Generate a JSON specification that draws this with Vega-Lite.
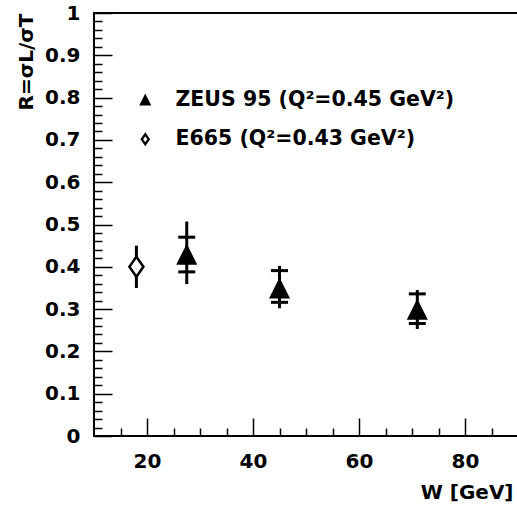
{
  "$schema": "https://vega.github.io/schema/vega-lite/v6.json",
  "width": 424,
  "height": 423,
  "autosize": {"type": "none"},
  "padding": {"left": 94, "top": 13, "right": 0, "bottom": 76},
  "background": "white",
  "data": {
    "values": [
      {"exp": "ZEUS 95 (Q²=0.45 GeV²)", "W": 27.5, "R": 0.428, "stat_lo": 0.388, "stat_hi": 0.470, "tot_lo": 0.359, "tot_hi": 0.507},
      {"exp": "ZEUS 95 (Q²=0.45 GeV²)", "W": 45, "R": 0.348, "stat_lo": 0.316, "stat_hi": 0.391, "tot_lo": 0.302, "tot_hi": 0.402},
      {"exp": "ZEUS 95 (Q²=0.45 GeV²)", "W": 71, "R": 0.298, "stat_lo": 0.266, "stat_hi": 0.336, "tot_lo": 0.253, "tot_hi": 0.345},
      {"exp": "E665 (Q²=0.43 GeV²)", "W": 18, "R": 0.40, "stat_lo": null, "stat_hi": null, "tot_lo": 0.35, "tot_hi": 0.45}
    ]
  },
  "resolve": {"axis": {"x": "independent", "y": "independent"}},
  "layer": [
    {
      "mark": {"type": "rule", "stroke": "black", "strokeWidth": 3},
      "encoding": {
        "x": {
          "field": "W",
          "type": "quantitative",
          "scale": {"domain": [10, 90], "nice": false, "zero": false},
          "axis": {
            "orient": "bottom",
            "offset": -18,
            "domain": false,
            "values": [20, 40, 60, 80],
            "tickCount": 200,
            "format": "~g",
            "tickSize": 18,
            "labelPadding": 15,
            "labelOverlap": false,
            "labelFlush": false,
            "title": "W [GeV]",
            "titleAnchor": "end",
            "titleX": 419,
            "titleY": 80,
            "titleAlign": "right",
            "titleBaseline": "alphabetic"
          }
        },
        "y": {
          "field": "tot_lo",
          "type": "quantitative",
          "scale": {"domain": [0, 1], "nice": false, "zero": false},
          "axis": {
            "orient": "left",
            "offset": -18,
            "domain": false,
            "values": [0, 0.1, 0.2, 0.3, 0.4, 0.5, 0.6, 0.7, 0.8, 0.9, 1],
            "tickCount": 200,
            "format": "~g",
            "tickSize": 18,
            "labelPadding": 14,
            "labelOverlap": false,
            "labelFlush": false,
            "title": "R=σL/σT",
            "titleAngle": -90,
            "titleX": -80,
            "titleY": 0,
            "titleAlign": "right",
            "titleBaseline": "alphabetic"
          }
        },
        "y2": {"field": "tot_hi"}
      }
    },
    {
      "mark": {"type": "tick", "orient": "horizontal", "color": "black", "size": 17, "thickness": 3, "opacity": 1},
      "encoding": {
        "x": {
          "field": "W",
          "type": "quantitative",
          "axis": {
            "orient": "bottom",
            "offset": -8,
            "values": [15, 25, 30, 35, 45, 50, 55, 65, 70, 75, 85],
            "tickCount": 200,
            "tickSize": 8,
            "labels": false,
            "domain": false,
            "title": null
          }
        },
        "y": {
          "field": "stat_lo",
          "type": "quantitative",
          "axis": {
            "orient": "left",
            "offset": -8,
            "values": [0.02, 0.04, 0.06, 0.08, 0.12, 0.14, 0.16, 0.18, 0.22, 0.24, 0.26, 0.28, 0.32, 0.34, 0.36, 0.38, 0.42, 0.44, 0.46, 0.48, 0.52, 0.54, 0.56, 0.58, 0.62, 0.64, 0.66, 0.68, 0.72, 0.74, 0.76, 0.78, 0.82, 0.84, 0.86, 0.88, 0.92, 0.94, 0.96, 0.98],
            "tickCount": 200,
            "tickSize": 8,
            "labels": false,
            "domain": false,
            "title": null
          }
        }
      }
    },
    {
      "mark": {"type": "tick", "orient": "horizontal", "color": "black", "size": 17, "thickness": 3, "opacity": 1},
      "encoding": {
        "x": {"field": "W", "type": "quantitative", "axis": null},
        "y": {"field": "stat_hi", "type": "quantitative", "axis": null}
      }
    },
    {
      "mark": {"type": "point", "strokeWidth": 2.5, "size": 400, "opacity": 1, "fillOpacity": 1, "strokeOpacity": 1},
      "encoding": {
        "x": {"field": "W", "type": "quantitative", "axis": null},
        "y": {"field": "R", "type": "quantitative", "axis": null},
        "shape": {
          "field": "exp",
          "type": "nominal",
          "scale": {"domain": ["ZEUS 95 (Q²=0.45 GeV²)", "E665 (Q²=0.43 GeV²)"], "range": ["M0,-0.85L0.85,0.85L-0.85,0.85Z", "M0,-1L0.7,0L0,1L-0.7,0Z"]},
          "legend": {"title": null, "orient": "none", "legendX": 41, "legendY": 77}
        },
        "fill": {
          "field": "exp",
          "type": "nominal",
          "scale": {"domain": ["ZEUS 95 (Q²=0.45 GeV²)", "E665 (Q²=0.43 GeV²)"], "range": ["black", "white"]},
          "legend": {"title": null, "orient": "none", "legendX": 41, "legendY": 77}
        },
        "stroke": {
          "field": "exp",
          "type": "nominal",
          "scale": {"domain": ["ZEUS 95 (Q²=0.45 GeV²)", "E665 (Q²=0.43 GeV²)"], "range": ["black", "black"]},
          "legend": {"title": null, "orient": "none", "legendX": 41, "legendY": 77}
        }
      }
    }
  ],
  "config": {
    "view": {"stroke": "black", "strokeWidth": 2},
    "font": "DejaVu Sans",
    "axis": {
      "grid": false,
      "domainColor": "black",
      "domainWidth": 2,
      "tickColor": "black",
      "tickWidth": 1.5,
      "labelFont": "DejaVu Sans",
      "labelFontWeight": "bold",
      "labelFontSize": 20,
      "labelColor": "black",
      "titleFont": "DejaVu Sans",
      "titleFontWeight": "bold",
      "titleFontSize": 20,
      "titleColor": "black"
    },
    "legend": {
      "padding": 0,
      "labelFont": "DejaVu Sans",
      "labelFontWeight": "bold",
      "labelFontSize": 20.5,
      "labelColor": "black",
      "labelLimit": 0,
      "labelOffset": 20,
      "rowPadding": 18,
      "symbolSize": 100,
      "symbolStrokeWidth": 2.2
    }
  }
}
